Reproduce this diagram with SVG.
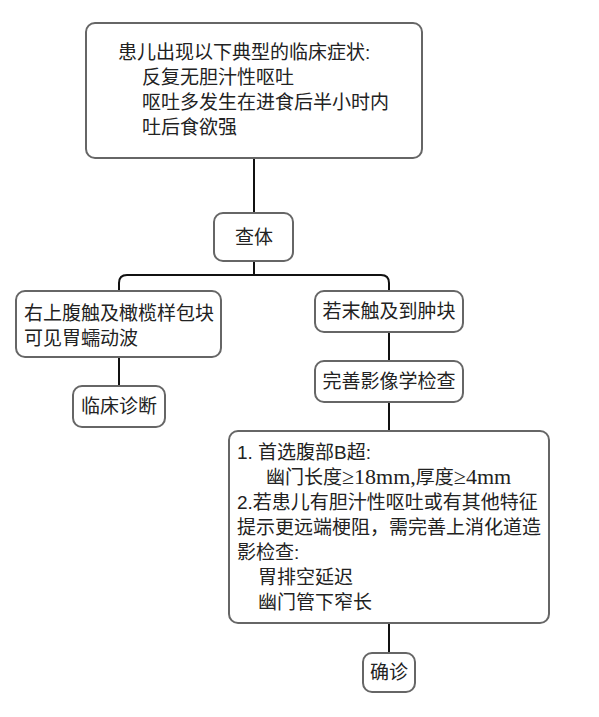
<svg xmlns="http://www.w3.org/2000/svg" width="599" height="717" viewBox="0 0 599 717">
<style>
.box{fill:#fff;stroke:#666;stroke-width:2}
.t{font-family:"Liberation Sans","Noto Sans CJK SC",sans-serif;font-size:19px;fill:#222}
.s{font-family:"Liberation Serif","Noto Sans CJK SC",serif}
.big{font-size:22px}
.c{text-anchor:middle}
.ln{fill:none;stroke:#111;stroke-width:2}
</style>
<rect width="599" height="717" fill="#fff"/>
<g id="connectors">
<path class="ln" d="M254 158V214"/>
<path class="ln" d="M254 261V275"/>
<path class="ln" d="M119 292V283Q119 275 127 275H381Q389 275 389 283V292"/>
<path class="ln" d="M119 357V386"/>
<path class="ln" d="M389 332V361"/>
<path class="ln" d="M389 402V431"/>
<path class="ln" d="M389 623V654"/>
</g>
<g id="n1">
<rect class="box" x="86" y="23" width="336" height="135" rx="9"/>
<text class="t" x="118" y="59">患儿出现以下典型的临床症状:</text>
<text class="t" x="142" y="84">反复无胆汁性呕吐</text>
<text class="t" x="142" y="109">呕吐多发生在进食后半小时内</text>
<text class="t" x="142" y="134">吐后食欲强</text>
</g>
<g id="n2">
<rect class="box" x="214" y="213" width="79" height="48" rx="9"/>
<text class="t c" x="254" y="244">查体</text>
</g>
<g id="n3">
<rect class="box" x="16" y="291" width="205" height="66" rx="9"/>
<text class="t" x="24" y="320">右上腹触及橄榄样包块</text>
<text class="t" x="24" y="345">可见胃蠕动波</text>
</g>
<g id="n4">
<rect class="box" x="73" y="386" width="92" height="41" rx="9"/>
<text class="t c" x="119" y="413">临床诊断</text>
</g>
<g id="n5">
<rect class="box" x="315" y="291" width="148" height="41" rx="9"/>
<text class="t c" x="389" y="318">若末触及到肿块</text>
</g>
<g id="n6">
<rect class="box" x="315" y="361" width="148" height="41" rx="9"/>
<text class="t c" x="389" y="388">完善影像学检查</text>
</g>
<g id="n7">
<rect class="box" x="229" y="431" width="320" height="192" rx="9"/>
<text class="t" x="237" y="459">1. 首选腹部B超:</text>
<text class="t s" x="266" y="484">幽门长度<tspan class="big">≥18mm,</tspan>厚度<tspan class="big">≥4mm</tspan></text>
<text class="t" x="237" y="509">2.若患儿有胆汁性呕吐或有其他特征</text>
<text class="t" x="237" y="534">提示更远端梗阻，需完善上消化道造</text>
<text class="t" x="237" y="559">影检查:</text>
<text class="t" x="258" y="584">胃排空延迟</text>
<text class="t" x="258" y="609">幽门管下窄长</text>
</g>
<g id="n8">
<rect class="box" x="363" y="653" width="52" height="39" rx="9"/>
<text class="t c" x="389" y="679">确诊</text>
</g>
</svg>
